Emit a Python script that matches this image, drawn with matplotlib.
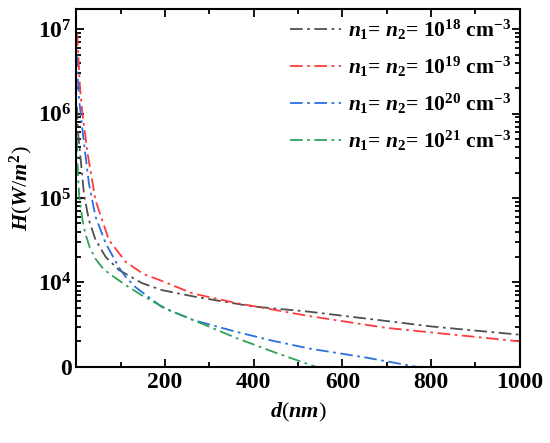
import numpy as np
import matplotlib
matplotlib.use("Agg")
import matplotlib.pyplot as plt
from matplotlib.ticker import FixedLocator, FixedFormatter, MultipleLocator, LogLocator, NullFormatter

# Fonts: Times-like bold
plt.rcParams['font.family'] = 'Liberation Serif'
plt.rcParams['font.weight'] = 'bold'
plt.rcParams['mathtext.fontset'] = 'custom'
plt.rcParams['mathtext.rm'] = 'Liberation Serif:bold'
plt.rcParams['mathtext.it'] = 'Liberation Serif:italic:bold'
plt.rcParams['mathtext.bf'] = 'Liberation Serif:bold'

# Data (d in nm, H in W/m^2)
d_18 = [1, 3.7, 9.7, 17, 28, 43, 66, 96, 148, 193, 268, 396, 524, 697, 802, 1000]
H_18 = [1.2e6, 5.9e5, 2.8e5, 1.1e5, 5.5e4, 3.2e4, 2.0e4, 1.4e4, 9.8e3, 8.1e3, 6.75e3, 5.2e3,
        4.5e3, 3.5e3, 3.0e3, 2.4e3]

d_19 = [1, 3.7, 8, 13.5, 25, 43, 73, 111, 152, 187, 262, 360, 524, 697, 1000]
H_19 = [9.0e6, 5.6e6, 2.0e6, 1.0e6, 3.4e5, 9.4e4, 3.2e4, 1.75e4, 1.25e4, 1.07e4, 7.4e3, 5.7e3,
        4.0e3, 2.9e3, 2.0e3]

d_20 = [1, 2, 6, 17, 28, 43, 66, 96, 111, 133, 152, 193, 262, 360, 440, 524, 652, 767]
H_20 = [5.0e6, 3.5e6, 1.45e6, 4.5e5, 1.5e5, 6.0e4, 2.9e4, 1.5e4, 1.16e4, 8.8e3, 7.4e3, 5.1e3,
        3.6e3, 2.6e3, 2.05e3, 1.65e3, 1.29e3, 1.0e3]

d_21 = [1, 2.2, 6, 13.5, 20, 30, 43, 58, 73, 111, 148, 208, 268, 360, 449, 524, 539]
H_21 = [5.0e5, 2.6e5, 1.1e5, 5.5e4, 3.8e4, 2.6e4, 1.9e4, 1.5e4, 1.28e4, 9.3e3, 7.0e3, 4.7e3,
        3.5e3, 2.2e3, 1.47e3, 1.07e3, 1.0e3]

labels = [r"$n_\mathit{1}$= $n_\mathit{2}$= 10$^{18}$ cm$^{-3}$",
          r"$n_\mathit{1}$= $n_\mathit{2}$= 10$^{19}$ cm$^{-3}$",
          r"$n_\mathit{1}$= $n_\mathit{2}$= 10$^{20}$ cm$^{-3}$",
          r"$n_\mathit{1}$= $n_\mathit{2}$= 10$^{21}$ cm$^{-3}$"]
colors = ['#505050', '#ff3b3b', '#2a6fe0', '#2ca25a']

ytick_vals = [1e3, 1e4, 1e5, 1e6, 1e7]
ytick_labels = ['0', r'10$^4$', r'10$^5$', r'10$^6$', r'10$^7$']

fig = plt.figure(figsize=(5.5, 4.43), dpi=100)
ax = fig.add_axes([0.139, 0.172, 0.806, 0.808])

series = [(d_18, H_18), (d_19, H_19), (d_20, H_20), (d_21, H_21)]
for (d, H), c, lab in zip(series, colors, labels):
    ax.plot(d, H, color=c, lw=1.3, linestyle=(0, (7, 2.5, 1.5, 2.5)), label=lab)

ax.set_yscale('log')
ax.set_xlim(0, 1000)
ax.set_ylim(1e3, 1.74e7)

ax.xaxis.set_major_locator(FixedLocator([200, 400, 600, 800, 1000]))
ax.xaxis.set_minor_locator(MultipleLocator(100))
ax.yaxis.set_major_locator(FixedLocator(ytick_vals))
ax.yaxis.set_major_formatter(FixedFormatter(ytick_labels))
ax.yaxis.set_minor_locator(LogLocator(base=10, subs=np.arange(2, 10)))
ax.yaxis.set_minor_formatter(NullFormatter())

ax.tick_params(which='both', direction='in', top=True, right=True, width=1.3)
ax.tick_params(which='major', length=6, labelsize=17)
ax.tick_params(which='minor', length=3.5)
for sp in ax.spines.values():
    sp.set_linewidth(1.5)

ax.set_xlabel(r'$d$($nm$)', fontsize=16, labelpad=6)
ax.set_ylabel(r'$H$($W$/$m^2$)', fontsize=16, labelpad=2)

ax.legend(loc='upper right', bbox_to_anchor=(1.0, 1.0), frameon=False, fontsize=15.5,
          handlelength=2.37, handletextpad=0.33, labelspacing=0.6, borderaxespad=0.0,
          borderpad=0.4)

fig.savefig('out.png', dpi=100)
